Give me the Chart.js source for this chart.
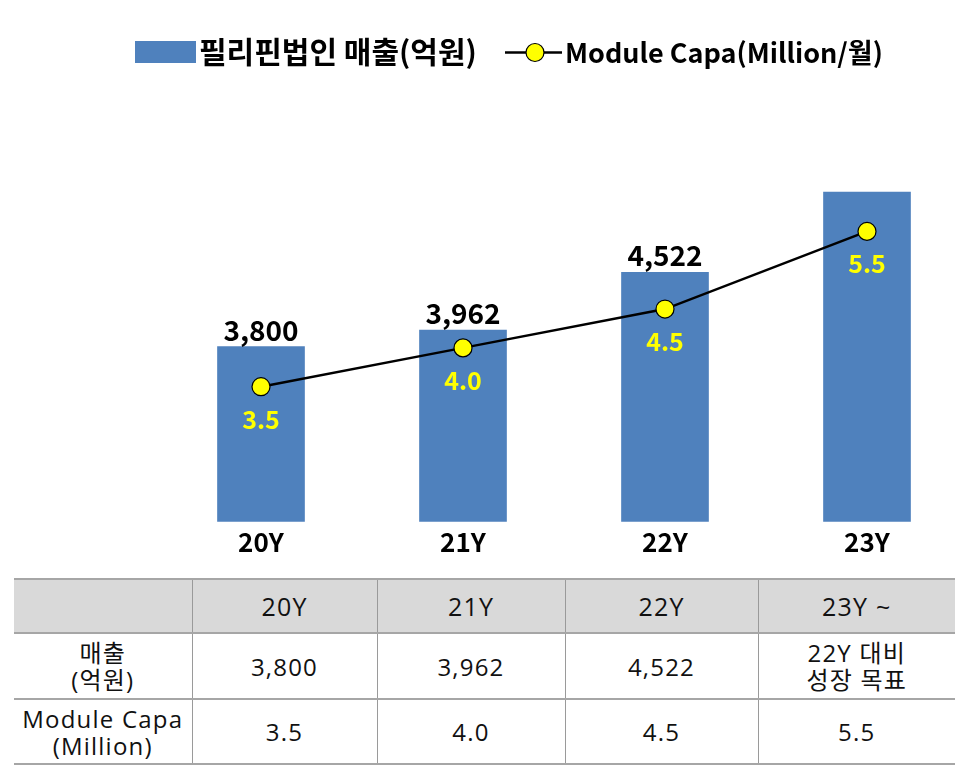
<!DOCTYPE html>
<html>
<head>
<meta charset="utf-8">
<script src="https://cdn.jsdelivr.net/npm/chart.js@4.4.1/dist/chart.umd.min.js"></script>
<style>
  html, body { margin:0; padding:0; background:#fff; }
  #wrap { position:absolute; left:0; top:0; width:962px; height:575px; }
  #tbl { position:absolute; left:14px; top:578px; width:941px; border-collapse:collapse; table-layout:fixed;
         font-family:"Open Sans","Noto Sans CJK KR",sans-serif; color:#111; letter-spacing:1.2px; }
  #tbl th, #tbl td { text-align:center; vertical-align:middle; padding:0; border-left:1px solid #9a9a9a; border-right:1px solid #9a9a9a; }
  #tbl tr { border-top:2px solid #a6a6a6; border-bottom:2px solid #a6a6a6; }
  #tbl tr > :first-child { border-left:none; }
  #tbl tr > :last-child { border-right:none; }
  #tbl th { background:#d9d9d9; font-weight:normal; font-size:25px; height:52px; }
  #tbl td { font-size:24px; line-height:27px; }
  #tbl tr.r1 td { height:64px; }
  #tbl tr.r2 td { height:63px; }
</style>
</head>
<body>
<div id="wrap"><canvas id="c" width="962" height="575"></canvas></div>
<table id="tbl"></table>
<script>
// ---- data ----
const categories = ['20Y', '21Y', '22Y', '23Y'];
const tableHeaders = ['20Y', '21Y', '22Y', '23Y ~'];
const salesLabel = '필리핀법인 매출(억원)';
const capaLabel = 'Module Capa(Million/월)';
const sales = [3800, 3962, 4522, 5300];          // 23Y value is an unlabelled target
const showSalesLabel = [true, true, true, false];
const capa = [3.5, 4.0, 4.5, 5.5];
const salesRowTitle = ['매출', '(억원)'];
const capaRowTitle = ['Module Capa', '(Million)'];
const salesTargetText = ['22Y 대비', '성장 목표'];

const fmt = v => v.toLocaleString('en-US');
const FONT = '"Noto Sans CJK KR", "Noto Sans", sans-serif';

// ---- table ----
(function buildTable(){
  const t = document.getElementById('tbl');
  const cols = [178, 185, 188, 193, 197];
  const cg = document.createElement('colgroup');
  cols.forEach(w => { const c = document.createElement('col'); c.style.width = w + 'px'; cg.appendChild(c); });
  t.appendChild(cg);
  const h = document.createElement('tr');
  h.innerHTML = '<th></th>' + tableHeaders.map(x => '<th>' + x + '</th>').join('');
  t.appendChild(h);
  const r1 = document.createElement('tr'); r1.className = 'r1';
  r1.innerHTML = '<td>' + salesRowTitle.join('<br>') + '</td>' +
    sales.map((v, i) => '<td>' + (showSalesLabel[i] ? fmt(v) : salesTargetText.join('<br>')) + '</td>').join('');
  t.appendChild(r1);
  const r2 = document.createElement('tr'); r2.className = 'r2';
  r2.innerHTML = '<td>' + capaRowTitle.join('<br>') + '</td>' +
    capa.map(v => '<td>' + v.toFixed(1) + '</td>').join('');
  t.appendChild(r2);
})();

// ---- legend (drawn on the chart canvas) ----
const topLegend = {
  id: 'topLegend',
  afterDraw(chart) {
    const ctx = chart.ctx;
    const barDs = chart.data.datasets[1], lineDs = chart.data.datasets[0];
    ctx.save();
    // bar entry
    ctx.fillStyle = barDs.backgroundColor;
    ctx.fillRect(135, 41, 61, 22);
    ctx.fillStyle = '#000';
    ctx.textAlign = 'left';
    ctx.textBaseline = 'middle';
    ctx.font = 'bold 30px ' + FONT;
    ctx.fillText(barDs.label, 199, 52);
    // line entry
    ctx.strokeStyle = lineDs.borderColor;
    ctx.lineWidth = 2.5;
    ctx.beginPath(); ctx.moveTo(505, 52.5); ctx.lineTo(562, 52.5); ctx.stroke();
    ctx.beginPath(); ctx.arc(535, 52.5, 9, 0, Math.PI * 2);
    ctx.fillStyle = lineDs.pointBackgroundColor; ctx.fill();
    ctx.lineWidth = 1.2; ctx.stroke();
    ctx.fillStyle = '#000';
    ctx.font = 'bold 27px ' + FONT;
    ctx.fillText(lineDs.label, 565, 53);
    ctx.restore();
  }
};

const valueLabels = {
  id: 'valueLabels',
  afterDatasetsDraw(chart) {
    const ctx = chart.ctx;
    ctx.save();
    ctx.textAlign = 'center';
    ctx.textBaseline = 'alphabetic';
    const bm = chart.getDatasetMeta(1);
    ctx.font = 'bold 28px ' + FONT;
    ctx.fillStyle = '#000';
    bm.data.forEach((el, i) => {
      if (showSalesLabel[i]) ctx.fillText(fmt(sales[i]), el.x, el.y - 6);
    });
    const lm = chart.getDatasetMeta(0);
    ctx.font = 'bold 25px ' + FONT;
    ctx.fillStyle = '#ffff00';
    lm.data.forEach((el, i) => {
      ctx.fillText(capa[i].toFixed(1), el.x, el.y + 42);
    });
    ctx.restore();
  }
};

new Chart(document.getElementById('c'), {
  data: {
    labels: categories,
    datasets: [
      {
        type: 'line', label: capaLabel, data: capa, yAxisID: 'y2', order: 0,
        borderColor: '#000', borderWidth: 2.5, tension: 0,
        pointRadius: 9, pointHoverRadius: 9, pointBackgroundColor: '#ffff00',
        pointBorderColor: '#000', pointBorderWidth: 1.2, clip: false
      },
      {
        type: 'bar', label: salesLabel, data: sales, yAxisID: 'y', order: 1,
        backgroundColor: '#4f81bd', borderWidth: 0, barThickness: 87,
        clip: { left: false, right: false, top: false, bottom: 0 }
      }
    ]
  },
  options: {
    responsive: false,
    animation: false,
    events: [],
    layout: { padding: { left: 261, right: 95, top: 120, bottom: 12 } },
    plugins: {
      tooltip: { enabled: false },
      legend: { display: false }
    },
    scales: {
      x: {
        offset: false,
        grid: { display: false, drawTicks: false },
        border: { display: false },
        ticks: { color: '#000', padding: 5, autoSkip: false, maxRotation: 0, font: { family: FONT, size: 26, weight: 'bold' } }
      },
      y: { display: false, min: 2100, max: 6000 },
      y2: { display: false, min: 1.76, max: 6.935 }
    }
  },
  plugins: [valueLabels, topLegend]
});
</script>
</body>
</html>
